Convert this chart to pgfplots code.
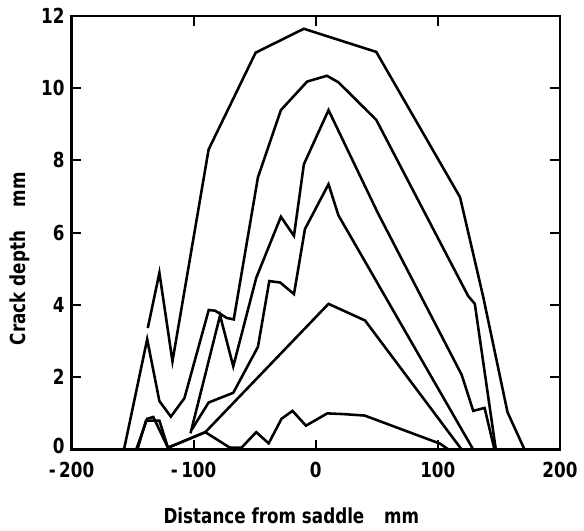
\documentclass[border=0pt]{standalone}
\usepackage{fontspec}
\setmainfont{DejaVu Sans Condensed}[FakeStretch=0.9, UprightFont=*\space Bold]
\usepackage{pgfplots}
\pgfplotsset{compat=1.18}
\begin{document}
\begin{tikzpicture}
\begin{axis}[
    scale only axis,
    width=247.75pt, height=220pt,
    xmin=-200, xmax=200, ymin=0, ymax=12,
    xtick={-200,-100,0,100,200},
    xticklabels={-\,200,-\,100,0,100,200},
    ytick={0,2,4,6,8,10,12},
    yticklabels={\raisebox{4pt}{0},2,4,6,8,10,12},
    tick align=inside,
    major tick length=5pt,
    axis line style={line width=1.2pt},
    every tick/.style={line width=1.1pt, black},
    ticklabel style={font=\fontsize{10.5}{12}\selectfont},
    xticklabel style={yshift=-3pt},
    label style={font=\fontsize{10.5}{12}\selectfont},
    xlabel={Distance from saddle\hspace{10pt}mm},
    ylabel={Crack depth\hspace{12pt}mm},
    xlabel style={at={(axis description cs:0.45,-0.152)}, anchor=center},
    ylabel style={at={(axis description cs:-0.106,0.44)}, anchor=center, rotate=0},
    crv/.style={line width=1.3pt, black, mark=none},
    clip=false,
]
% C1
\addplot[crv] coordinates {(-137.5,3.36) (-128,4.89) (-117.3,2.44) (-87.7,8.30) (-49.2,10.98) (-9.7,11.64) (49.6,11.0) (118.2,6.98) (137,4.25) (157.1,1.03) (171,0)};
% C2
\addplot[crv] coordinates {(-157,0) (-138,3.05) (-128,1.34) (-118.6,0.91) (-107.5,1.42) (-87.6,3.86) (-82.3,3.84) (-72.9,3.64) (-67.1,3.6) (-47.3,7.53) (-28.5,9.39) (-7,10.18) (9.2,10.34) (18.6,10.16) (49.6,9.12) (124.8,4.25) (130.3,4.03) (147.5,0)};
% C3
\addplot[crv] coordinates {(-102.5,0.45) (-78.3,3.71) (-67.5,2.30) (-48.7,4.75) (-28.5,6.44) (-17.8,5.91) (-9.7,7.89) (10.5,9.39) (50.8,6.55) (119.5,2.07) (129,1.07) (138.3,1.15) (146.4,0)};
% C4
\addplot[crv] coordinates {(-101.5,0.55) (-87.7,1.30) (-67.5,1.57) (-47.3,2.84) (-38,4.66) (-29,4.62) (-17.8,4.30) (-8.8,6.1) (10.5,7.34) (18.6,6.48) (129,0)};
% C5
\addplot[crv] coordinates {(-147,0) (-138,0.85) (-133,0.9) (-121,0.05) (-90.4,0.48) (10.5,4.03) (40.4,3.57) (119.5,0)};
% C6
\addplot[crv] coordinates {(-146,0) (-139,0.8) (-128,0.8) (-121,0.05) (-90.4,0.48) (-70.2,0.05) (-60.8,0.05) (-48.7,0.48) (-38.5,0.17) (-28,0.85) (-19,1.07) (-8,0.66) (9.5,1.0) (22.6,0.98) (40.1,0.94) (102,0.16) (108.7,0)};
\end{axis}
\path[use as bounding box] (current axis.south west) ++(-36.25pt,-40pt) rectangle ([shift={(8pt,8pt)}]current axis.north east);
\end{tikzpicture}
\end{document}
